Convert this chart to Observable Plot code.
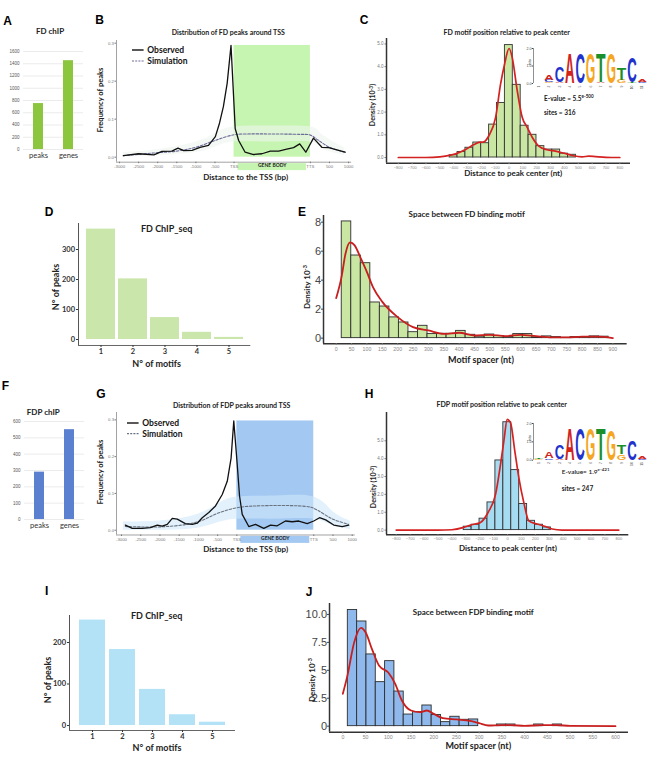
<!DOCTYPE html>
<html>
<head>
<meta charset="utf-8">
<script src="https://cdn.jsdelivr.net/npm/d3@7"></script>
<script src="https://cdn.jsdelivr.net/npm/@observablehq/plot@0.6"></script>
<style>
  html, body { margin: 0; padding: 0; background: #fff; overflow: hidden; }
  #fig { position: relative; width: 652px; height: 757px; background: #fff; }
  #fig .t { position: absolute; white-space: nowrap; }
  #fig sup { font-size: 70%; vertical-align: 0.45em; line-height: 0; }
</style>
</head>
<body>
<div id="fig"></div>
<script>
// ---------------- data ----------------
// ChIP summary (peaks / target genes)
const chipCategories = ["peaks", "genes"];
const fdChipCounts = [750, 1450];
const fdpChipCounts = [290, 550];
const fdChipTicks = [0, 200, 400, 600, 800, 1000, 1200, 1400, 1600];
const fdpChipTicks = [0, 100, 200, 300, 400, 500, 600];

// Peak distribution around the TSS (gene body rescaled between TSS and TTS)
const geneBody = {start: 0, end: 2000};
const tssTicks = [-3000, -2500, -2000, -1500, -1000, -500, 0, 2000, 2500, 3000];
const tssTickLabels = ["-3000", "-2500", "-2000", "-1500", "-1000", "-500", "TSS", "TTS", "500", "1000"];
const freqTicks = [0, 0.1, 0.2, 0.3];

const fdObsPos = [-2900, -2500, -2100, -1890, -1630, -1470, -1320, -1100, -890, -670, -490, -380, -280, -180, -80, 30, 120, 290, 510, 730, 950, 1170, 1380, 1560, 1720, 1880, 2080, 2300, 2480, 2740, 2910];
const fdObserved = [0.004, 0.009, 0.006, 0.015, 0.016, 0.024, 0.017, 0.018, 0.026, 0.031, 0.054, 0.090, 0.133, 0.195, 0.294, 0.075, 0.044, 0.013, 0.007, 0.009, 0.016, 0.016, 0.021, 0.025, 0.035, 0.013, 0.050, 0.026, 0.025, 0.018, 0.013];
const fdSimPos = [-2900, -2100, -1500, -1000, -500, 0, 300, 1000, 1700, 2000, 2200, 2500, 2900];
const fdSimulation = [0.004, 0.011, 0.016, 0.026, 0.044, 0.059, 0.061, 0.061, 0.060, 0.058, 0.045, 0.026, 0.013];
const fdBandPos = [-2900, -2000, -1000, -500, 0, 1000, 2000, 2300, 2900];
const fdBandLow = [0.0, 0.004, 0.012, 0.026, 0.040, 0.040, 0.040, 0.022, 0.004];
const fdBandHigh = [0.012, 0.020, 0.040, 0.062, 0.080, 0.082, 0.080, 0.060, 0.024];

const fdpObsPos = [-2900, -2720, -2460, -2250, -2070, -1940, -1810, -1680, -1550, -1340, -1160, -1030, -900, -730, -555, -380, -250, -150, -80, 10, 70, 140, 310, 485, 700, 875, 1050, 1265, 1440, 1610, 1830, 2000, 2150, 2310, 2520, 2740, 2910];
const fdpObserved = [0.014, 0.005, 0.005, 0.007, 0.014, 0.011, 0.016, 0.032, 0.030, 0.018, 0.016, 0.019, 0.034, 0.048, 0.066, 0.097, 0.133, 0.196, 0.297, 0.178, 0.093, 0.043, 0.010, 0.016, 0.005, 0.014, 0.012, 0.025, 0.023, 0.025, 0.018, 0.025, 0.034, 0.028, 0.014, 0.010, 0.014];
const fdpSimPos = [-2900, -2000, -1300, -900, -500, 0, 500, 1900, 2100, 2500, 2900];
const fdpSimulation = [0.010, 0.009, 0.016, 0.027, 0.046, 0.061, 0.066, 0.063, 0.054, 0.030, 0.016];
const fdpBandPos = [-2950, -2000, -1300, -900, -500, 0, 1000, 2000, 2500, 2950];
const fdpBandLow = [0.0, 0.0, 0.002, 0.008, 0.020, 0.030, 0.030, 0.030, 0.012, 0.002];
const fdpBandHigh = [0.022, 0.025, 0.035, 0.048, 0.070, 0.090, 0.093, 0.090, 0.050, 0.025];

// Motif position relative to peak center (density x 10^-3)
const centerTicks = d3.range(-800, 801, 100);
const fdMotifBins = [-429, -372, -315, -258, -201, -144, -87, -30, 27, 84, 141, 198, 255, 312, 369, 426, 483];
const fdMotifDensity = [0.10, 0.24, 0.43, 0.66, 0.63, 1.45, 2.40, 4.95, 3.20, 1.40, 1.00, 0.50, 0.35, 0.35, 0.17, 0.12];
const fdMotifCurvePos = [-800, -600, -500, -450, -386, -314, -254, -218, -182, -145, -97, -61, -32, 0, 23, 59, 95, 131, 167, 215, 275, 335, 396, 456, 528, 576, 624, 700, 800];
const fdMotifCurve = [0, 0, 0.03, 0.07, 0.16, 0.35, 0.57, 0.67, 0.69, 0.97, 1.77, 3.24, 4.12, 4.80, 4.40, 2.95, 1.77, 1.33, 0.89, 0.50, 0.34, 0.28, 0.19, 0.09, 0.03, 0.06, 0.04, 0.01, 0];
const fdpMotifBins = [-315, -258, -201, -144, -87, -30, 27, 84, 141, 198, 255, 312];
const fdpMotifDensity = [0.19, 0.30, 0.64, 1.55, 3.90, 6.04, 3.36, 1.46, 0.52, 0.30, 0.15];
const fdpMotifCurvePos = [-800, -500, -400, -314, -259, -194, -139, -86, -50, -26, -2, 22, 53, 81, 117, 153, 213, 273, 321, 393, 500, 800];
const fdpMotifCurve = [0, 0, 0.02, 0.15, 0.30, 0.43, 1.0, 2.0, 3.7, 5.0, 6.2, 6.0, 4.4, 2.95, 1.55, 0.52, 0.34, 0.20, 0.06, 0.0, 0, 0];

// Sequence logos: stacks of [base, bits] from bottom to top for positions 1..11
const logoPositions = d3.range(1, 12);
const fdLogo = [
  [["T", 0.03], ["A", 0.03]],
  [["G", 0.06], ["C", 0.12], ["A", 0.28]],
  [["A", 0.08], ["C", 0.95]],
  [["A", 1.85]],
  [["C", 1.85]],
  [["G", 1.85]],
  [["A", 0.05], ["T", 1.78]],
  [["G", 1.85]],
  [["G", 0.20], ["T", 0.70]],
  [["T", 0.05], ["C", 1.55]],
  [["C", 0.06], ["A", 0.18]]
];
const fdpLogo = [
  [["G", 0.04], ["T", 0.04]],
  [["C", 0.10], ["A", 0.35]],
  [["A", 0.05], ["C", 0.85]],
  [["A", 1.85]],
  [["C", 1.85]],
  [["G", 1.85]],
  [["T", 1.85]],
  [["G", 1.80]],
  [["G", 0.30], ["T", 0.55]],
  [["C", 1.18]],
  [["C", 0.08], ["A", 0.18]]
];
const baseColors = {A: "#d0241c", C: "#2233cc", G: "#f5a623", T: "#1a8f2a"};

// Number of motifs per peak
const motifNumbers = [1, 2, 3, 4, 5];
const fdPeaksPerMotifCount = [368, 202, 73, 24, 7];
const fdpPeaksPerMotifCount = [254, 183, 87, 26, 8];

// Spacer length between adjacent motifs (density x 10^-3)
const fdSpacerBins = [18, 49, 80, 111, 142, 173, 204, 235, 266, 297, 328, 359, 390, 421, 452, 483, 514, 545, 576, 607, 638, 669, 700, 731, 762, 793, 824, 855, 886];
const fdSpacerDensity = [8.05, 5.70, 5.17, 2.46, 2.18, 1.43, 1.08, 0.41, 0.85, 0.28, 0.30, 0.30, 0.50, 0.23, 0.10, 0.25, 0.15, 0.07, 0.28, 0.28, 0.05, 0.12, 0.07, 0.02, 0.07, 0.07, 0.12, 0.10];
const fdSpacerCurvePos = [0, 18, 30, 45, 60, 80, 100, 120, 150, 200, 250, 300, 350, 400, 450, 500, 550, 600, 650, 700, 750, 800, 850, 900];
const fdSpacerCurve = [2.76, 4.3, 5.8, 6.6, 6.4, 5.5, 4.55, 3.5, 2.5, 1.45, 0.76, 0.53, 0.30, 0.37, 0.18, 0.23, 0.14, 0.23, 0.14, 0.05, 0.05, 0.10, 0.10, 0.0];
const fdSpacerTicks = d3.range(0, 901, 50);
const fdSpacerYTicks = [0, 2, 4, 6, 8];

const fdpSpacerBins = [11, 31.5, 52, 72.5, 93, 113.5, 134, 154.5, 175, 195.5, 216, 236.5, 257, 277.5, 298, 318.5, 339, 359.5, 380, 400.5, 421, 441.5, 462, 482.5];
const fdpSpacerDensity = [10.4, 9.37, 6.42, 3.94, 5.82, 3.10, 1.04, 1.25, 1.85, 1.00, 0.36, 0.84, 0.57, 0.60, 0, 0, 0.15, 0.15, 0, 0, 0.15, 0, 0.15];
const fdpSpacerCurvePos = [0, 10, 25, 40, 50, 65, 80, 100, 115, 130, 150, 170, 185, 200, 220, 250, 280, 300, 320, 350, 370, 400, 440, 470, 500, 600];
const fdpSpacerCurve = [2.9, 4.5, 7.5, 8.8, 8.4, 6.8, 5.4, 4.8, 3.8, 2.3, 1.4, 1.25, 1.4, 1.1, 0.72, 0.6, 0.48, 0.27, 0.06, 0.09, 0.09, 0.03, 0.09, 0.09, 0.03, 0];
const fdpSpacerTicks = d3.range(0, 601, 50);
const fdpSpacerYTicks = [0, 2.5, 5, 7.5, 10];
const fdpSpacerYLabels = ["0", "2.5", "5", "7.5", "10.0"];

// ---------------- helpers ----------------
const root = document.getElementById("fig");
const ARIAL = "Liberation Sans, Arial, sans-serif";
const LATO = "Lato, 'Open Sans', sans-serif";

// Mount a plot so that its inner frame lands on the given page box.
function mount(frame, pad, options) {
  const [pl, pr, pt, pb] = pad;
  const svg = Plot.plot({
    width: frame.x1 - frame.x0 + pl + pr,
    height: frame.y1 - frame.y0 + pt + pb,
    marginLeft: pl, marginRight: pr, marginTop: pt, marginBottom: pb,
    style: {background: "transparent", overflow: "visible", fontFamily: options.font || ARIAL},
    ...options
  });
  svg.style.position = "absolute";
  svg.style.left = (frame.x0 - pl) + "px";
  svg.style.top = (frame.y0 - pt) + "px";
  root.appendChild(svg);
  return svg;
}

function text(html, x, y, o = {}) {
  const el = document.createElement("div");
  el.className = "t";
  el.innerHTML = html;
  el.style.left = x + "px";
  el.style.top = y + "px";
  el.style.font = `${o.weight ?? 700} ${o.size ?? 8}px ${o.family ?? LATO}`;
  el.style.color = o.color ?? "#222";
  const tx = o.align === "start" ? "0" : "-50%";
  el.style.transform = `translate(${tx},-50%)` + (o.rotate ? ` rotate(${o.rotate}deg)` : "");
  root.appendChild(el);
}

function legend(x, y, gap, simColor) {
  const el = document.createElement("div");
  el.style.cssText = `position:absolute;left:${x}px;top:${y - 5}px;`;
  el.innerHTML = `<svg width="70" height="${gap + 10}" style="overflow:visible;display:block">
    <line x1="0" x2="11.6" y1="5" y2="5" stroke="#111" stroke-width="1.4"/>
    <line x1="0" x2="11.6" y1="${5 + gap}" y2="${5 + gap}" stroke="${simColor}" stroke-width="1.1" stroke-dasharray="2,1.2"/>
    <text x="15.3" y="5" dy="0.35em" font-family="Lato" font-weight="700" font-size="8.5" fill="#111">Observed</text>
    <text x="15.3" y="${5 + gap}" dy="0.35em" font-family="Lato" font-weight="700" font-size="8.5" fill="#111">Simulation</text>
  </svg>`;
  root.appendChild(el);
}

const rows = (xs, ys) => xs.map((x, i) => ({x, y: ys[i]}));
const binRows = (edges, ys) => ys.map((y, i) => ({x1: edges[i], x2: edges[i + 1], y}));
const bandRows = (xs, lo, hi) => xs.map((x, i) => ({x, lo: lo[i], hi: hi[i]}));

// ---------------- A / F : ChIP bar charts ----------------
function chipPanel(frame, counts, ticks, fill) {
  mount(frame, [24, 8, 6, 16], {
    x: {type: "band", domain: chipCategories, paddingInner: 0.667, paddingOuter: 0.333},
    y: {domain: [ticks[0], ticks[ticks.length - 1]]},
    marks: [
      Plot.ruleY(ticks, {stroke: "#e3e3e3", strokeWidth: 0.7}),
      Plot.barY(chipCategories, {x: d => d, y1: () => 0, y2: (d, i) => counts[i], fill}),
      Plot.axisY({ticks, tickFormat: d3.format("d"), tickSize: 0, tickPadding: 4, fontSize: 4.5, color: "#555", label: null}),
      Plot.axisX({tickSize: 0, tickPadding: 3, fontSize: 7.5, color: "#333", label: null, fontFamily: LATO})
    ]
  });
}
chipPanel({x0: 23, x1: 83, y0: 51, y1: 149}, fdChipCounts, fdChipTicks, "#8cc63f");
chipPanel({x0: 24, x1: 84, y0: 420.7, y1: 518.7}, fdpChipCounts, fdpChipTicks, "#5b80cf");

// ---------------- B / G : distribution around TSS ----------------
function tssPanel(frame, xDomain, yDomain, obs, sim, band, colors) {
  const innerH = frame.y1 - frame.y0;
  const body = [{...geneBody, top: d3.max(obs, d => d.y)}];
  mount(frame, [14, 6, 4, 14], {
    x: {domain: xDomain},
    y: {domain: yDomain},
    marks: [
      Plot.rect(body, {x1: "start", x2: "end", y1: () => 0, y2: "top", fill: colors.body}),
      Plot.areaY(band, {x: "x", y1: "lo", y2: "hi", fill: colors.band, fillOpacity: colors.bandOpacity, curve: "natural"}),
      Plot.line(sim, {x: "x", y: "y", stroke: colors.sim, strokeWidth: 1.1, strokeDasharray: "2.5,1.6", curve: "catmull-rom"}),
      Plot.line(obs, {x: "x", y: "y", stroke: "#111", strokeWidth: 1.3}),
      Plot.ruleX([xDomain[0]], {stroke: "#8a8a8a", strokeWidth: 0.8}),
      Plot.ruleY([yDomain[0]], {stroke: "#8a8a8a", strokeWidth: 0.8}),
      Plot.rect(body, {x1: "start", x2: "end", insetTop: innerH + 1.4, insetBottom: -8.4, insetLeft: 4, insetRight: 4, fill: colors.body}),
      Plot.text(body, {x: d => (d.start + d.end) / 2, frameAnchor: "bottom", dy: 5.2, text: () => "GENE BODY", fontSize: 5, fontWeight: 700, fill: "#222", fontFamily: LATO}),
      Plot.axisX({ticks: tssTicks, tickFormat: d => tssTickLabels[tssTicks.indexOf(d)], tickSize: 1.5, tickPadding: 1, fontSize: 4.3, color: "#777", label: null}),
      Plot.axisY({ticks: freqTicks, tickFormat: d3.format(".1f"), tickSize: 1.5, tickPadding: 1, fontSize: 4.3, color: "#777", label: null})
    ]
  });
}
tssPanel({x0: 116.25, x1: 351.4, y0: 40, y1: 161.7}, [-3080, 3080], [-0.0132, 0.307],
  rows(fdObsPos, fdObserved), rows(fdSimPos, fdSimulation), bandRows(fdBandPos, fdBandLow, fdBandHigh),
  {body: "#c6f5b1", band: "#eef5ee", bandOpacity: 0.6, sim: "#6c6c96"});
tssPanel({x0: 116, x1: 354.8, y0: 411.6, y1: 534.1}, [-3130, 3080], [-0.013, 0.32],
  rows(fdpObsPos, fdpObserved), rows(fdpSimPos, fdpSimulation), bandRows(fdpBandPos, fdpBandLow, fdpBandHigh),
  {body: "#a3c8f2", band: "#cfe7fa", bandOpacity: 0.6, sim: "#6a7280"});
legend(131.7, 50, 11, "#6c6c96");
legend(126.7, 422.7, 10.6, "#6a7280");

// ---------------- C / H : motif position relative to peak center ----------------
function centerPanel(frame, xDomain, yDomain, bins, curve, fill) {
  mount(frame, [14, 6, 4, 14], {
    x: {domain: xDomain},
    y: {domain: yDomain},
    marks: [
      Plot.rect(bins, {x1: "x1", x2: "x2", y1: () => 0, y2: "y", fill, stroke: "#333", strokeWidth: 0.9}),
      Plot.line(curve, {x: "x", y: "y", stroke: "#d42222", strokeWidth: 1.7, curve: "monotone-x"}),
      Plot.ruleX([xDomain[0]], {stroke: "#333", strokeWidth: 1.5}),
      Plot.ruleY([yDomain[0]], {stroke: "#333", strokeWidth: 1.5}),
      Plot.axisX({ticks: centerTicks, tickSize: 1.5, tickPadding: 1, fontSize: 4, color: "#888", label: null}),
      Plot.axisY({ticks: [0, 1, 2, 3, 4, 5], tickSize: 1.5, tickPadding: 1.5, fontSize: 4.5, color: "#777", label: null})
    ]
  });
}
centerPanel({x0: 386, x1: 630, y0: 38, y1: 162.7}, [-885, 877], [-0.25, 5.24],
  binRows(fdMotifBins, fdMotifDensity), rows(fdMotifCurvePos, fdMotifCurve), "#c9e6a3");
centerPanel({x0: 386, x1: 628.3, y0: 411.7, y1: 534}, [-870, 872], [-0.263, 6.585],
  binRows(fdpMotifBins, fdpMotifDensity), rows(fdpMotifCurvePos, fdpMotifCurve), "#a6dcf2");

// Sequence logos: letters are drawn at one font size, then stretched to their information content.
const LOGO_FONT = 20;
function logoRows(logo) {
  const out = [];
  logo.forEach((stack, i) => {
    let base = 0;
    for (const [letter, bits] of stack) {
      out.push({pos: logoPositions[i], letter, bits, y1: base});
      base += bits;
    }
  });
  return out;
}
function logoPanel(frame, logo) {
  const letters = logoRows(logo);
  const svg = mount(frame, [8, 2, 3, 10], {
    x: {domain: [0.5, 11.5]},
    y: {domain: [0, 2]},
    color: {type: "identity"},
    marks: [
      Plot.ruleX([0.5], {stroke: "#444", strokeWidth: 0.6}),
      Plot.text(letters, {x: "pos", y: "y1", text: "letter", fill: d => baseColors[d.letter], fontSize: LOGO_FONT, fontWeight: 700, fontFamily: ARIAL, lineAnchor: "bottom"}),
      Plot.axisY({ticks: [0, 1, 2], tickSize: 1.2, tickPadding: 0.8, fontSize: 3.6, color: "#444", label: null}),
      Plot.axisX({ticks: logoPositions, tickSize: 0, tickPadding: 2, tickRotate: -90, fontSize: 3.4, color: "#555", label: null})
    ]
  });
  const pxPerBit = (frame.y1 - frame.y0) / 2;
  const colW = (frame.x1 - frame.x0) / 11;
  const nodes = Array.from(svg.querySelectorAll("text")).filter(t => /^[ACGT]$/.test(t.textContent));
  nodes.forEach((t, i) => {
    const r = letters[i];
    if (!r) return;
    const tr = t.getAttribute("transform") || "";
    const m = /translate\(\s*([-\d.e]+)[\s,]+([-\d.e]+)\s*\)/.exec(tr);
    let tx, ty;
    if (m) { tx = +m[1]; ty = +m[2]; }
    else {
      tx = parseFloat(t.getAttribute("x") || 0); ty = parseFloat(t.getAttribute("y") || 0);
      t.removeAttribute("x"); t.removeAttribute("y");
    }
    t.removeAttribute("dy");
    const bb = t.getBBox();
    const sx = (colW * 0.92) / (bb.width || 1);
    // a thin gap separates stacked letters
    const sy = (r.bits * pxPerBit * 0.93) / (0.72 * LOGO_FONT);
    t.setAttribute("transform", `translate(${tx},${ty - 0.2}) scale(${sx},${sy})`);
  });
}
logoPanel({x0: 533, x1: 647, y0: 48.3, y1: 83.3}, fdLogo);
logoPanel({x0: 533, x1: 647, y0: 423.3, y1: 460}, fdpLogo);

// ---------------- D / I : number of motifs per peak ----------------
function motifCountPanel(frame, counts, yDomain, yTicks, fill, padIn, padOut) {
  const innerW = frame.x1 - frame.x0;
  mount(frame, [18, 6, 4, 14], {
    font: LATO,
    x: {type: "band", domain: motifNumbers, paddingInner: padIn, paddingOuter: padOut},
    y: {domain: yDomain},
    marks: [
      Plot.barY(motifNumbers, {x: d => d, y1: () => 0, y2: (d, i) => counts[i], fill}),
      // left axis line: a frame-tall sliver at the frame's left edge
      Plot.rect([yDomain], {insetRight: innerW - 1, fill: "#555"}),
      Plot.ruleY([yDomain[0]], {stroke: "#555", strokeWidth: 0.9}),
      Plot.axisX({tickSize: 2, tickPadding: 1.5, fontSize: 7.5, fontWeight: 700, color: "#333", label: null}),
      Plot.axisY({ticks: yTicks, tickSize: 2, tickPadding: 1.5, fontSize: 7.5, fontWeight: 700, color: "#333", label: null})
    ]
  });
}
motifCountPanel({x0: 77.7, x1: 250, y0: 223, y1: 345}, fdPeaksPerMotifCount, [-20, 386.7], [0, 100, 200, 300], "#cae6aa", 0.1, 0.23);
motifCountPanel({x0: 69, x1: 235, y0: 615, y1: 730}, fdpPeaksPerMotifCount, [-12, 265], [0, 100, 200], "#b3e2f7", 0.13, 0.27);

// ---------------- E / J : spacer between binding motifs ----------------
function spacerPanel(frame, xDomain, yDomain, bins, curve, xTicks, yTicks, yLabels, fill) {
  mount(frame, [22, 6, 6, 14], {
    x: {domain: xDomain},
    y: {domain: yDomain},
    marks: [
      Plot.rect(bins, {x1: "x1", x2: "x2", y1: () => 0, y2: "y", fill, stroke: "#2e2e2e", strokeWidth: 0.9}),
      Plot.line(curve, {x: "x", y: "y", stroke: "#c81e1e", strokeWidth: 1.8, curve: "monotone-x"}),
      Plot.ruleX([xDomain[0]], {stroke: "#333", strokeWidth: 1.5}),
      Plot.ruleY([yDomain[0]], {stroke: "#333", strokeWidth: 1.5}),
      Plot.axisX({ticks: xTicks, tickSize: 1.8, tickPadding: 1.5, fontSize: 5.2, color: "#888", label: null}),
      Plot.axisY({ticks: yTicks, tickFormat: d => yLabels[yTicks.indexOf(d)], tickSize: 2, tickPadding: 0.5, fontSize: 11, color: "#444", label: null})
    ]
  });
}
spacerPanel({x0: 323.3, x1: 627, y0: 215, y1: 343.3}, [-41.3, 946.5], [-0.39, 8.46],
  binRows(fdSpacerBins, fdSpacerDensity), rows(fdSpacerCurvePos, fdSpacerCurve),
  fdSpacerTicks, fdSpacerYTicks, fdSpacerYTicks.map(String), "#c9e6a3");
spacerPanel({x0: 329, x1: 628, y0: 603, y1: 731.7}, [-29.3, 628.6], [-0.54, 10.98],
  binRows(fdpSpacerBins, fdpSpacerDensity), rows(fdpSpacerCurvePos, fdpSpacerCurve),
  fdpSpacerTicks, fdpSpacerYTicks, fdpSpacerYLabels, "#8fb8ec");

// ---------------- panel letters, titles, axis titles, annotations ----------------
const panelLetters = [["A", 7.5, 21], ["B", 99.5, 20], ["C", 364, 20], ["D", 49, 211.7], ["E", 302, 211.7],
  ["F", 5.5, 385.5], ["G", 101, 394], ["H", 369, 394], ["I", 46.7, 590.5], ["J", 309, 592]];
for (const [l, x, y] of panelLetters) text(l, x, y, {size: 12, family: ARIAL, color: "#000"});

text("FD chIP", 50, 31, {size: 8});
text("FDP chIP", 43.3, 411.7, {size: 8});
text("Distribution of FD peaks around TSS", 228.3, 32.3, {size: 7});
text("Distribution of FDP peaks around TSS", 231.7, 405, {size: 7});
text("FD motif position relative to peak center", 506.7, 31.7, {size: 7});
text("FDP motif position relative to peak center", 501.7, 404, {size: 7});
text("FD ChIP_seq", 166.7, 228.3, {size: 9});
text("FD ChIP_seq", 156.7, 615, {size: 9});
text("Space between FD binding motif", 466.7, 214.3, {size: 8});
text("Space between FDP binding motif", 473.3, 611.7, {size: 8});

text("Frequency of peaks", 100, 100, {size: 7.5, rotate: -90});
text("Distance to the TSS (bp)", 245.7, 176.7, {size: 8});
text("Frequency of peaks", 100, 471.7, {size: 7.5, rotate: -90});
text("Distance to the TSS (bp)", 245.7, 549, {size: 8});
text("Density (10<sup>-3</sup>)", 372, 105, {size: 7, rotate: -90});
text("Distance to peak center (nt)", 513.3, 173.3, {size: 8});
text("Density (10<sup>-3</sup>)", 373.3, 487, {size: 7, rotate: -90});
text("Distance to peak center (nt)", 508, 548, {size: 8});
text("N° of peaks", 55, 286.7, {size: 9, rotate: -90});
text("N° of motifs", 156.7, 362.7, {size: 9});
text("N° of peaks", 46.7, 680, {size: 9, rotate: -90});
text("N° of motifs", 157, 747.3, {size: 9});
text("Density 10<sup>-3</sup>", 307, 287, {size: 8, rotate: -90});
text("Motif spacer (nt)", 481, 359, {size: 9});
text("Density 10<sup>-3</sup>", 311.7, 680, {size: 8, rotate: -90});
text("Motif spacer (nt)", 478.3, 745, {size: 9});

text("bits", 529.5, 62, {size: 3.6, weight: 400, family: ARIAL, rotate: -90});
text("bits", 529.5, 438, {size: 3.6, weight: 400, family: ARIAL, rotate: -90});
text("E-value = 5.5<sup>e-500</sup>", 544, 98.3, {size: 6.5, align: "start"});
text("sites = 316", 544, 112.3, {size: 6.5, align: "start"});
text("E-value= 1.9<sup>e-421</sup>", 561.7, 470.7, {size: 6.5, weight: 600, align: "start"});
text("sites = 247", 561.7, 488.3, {size: 6.5, align: "start"});
</script>
</body>
</html>
